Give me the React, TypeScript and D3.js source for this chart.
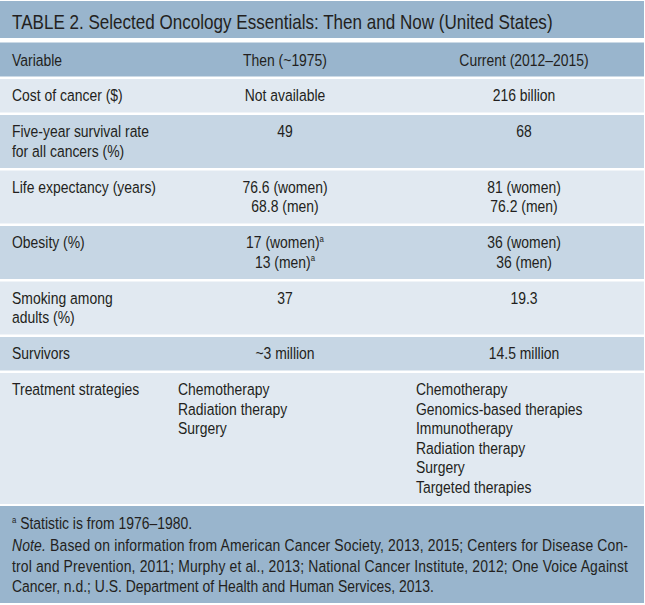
import React from "react";
import * as d3 from "d3";

const title = "TABLE 2. Selected Oncology Essentials: Then and Now (United States)";
const headers = ["Variable", "Then (~1975)", "Current (2012–2015)"];
const variables: string[][] = [
  ["Cost of cancer ($)"],
  ["Five-year survival rate", "for all cancers (%)"],
  ["Life expectancy (years)"],
  ["Obesity (%)"],
  ["Smoking among", "adults (%)"],
  ["Survivors"],
  ["Treatment strategies"],
];
const thenValues: string[][] = [
  ["Not available"],
  ["49"],
  ["76.6 (women)", "68.8 (men)"],
  ["17 (women)^a", "13 (men)^a"],
  ["37"],
  ["~3 million"],
  ["Chemotherapy", "Radiation therapy", "Surgery"],
];
const currentValues: string[][] = [
  ["216 billion"],
  ["68"],
  ["81 (women)", "76.2 (men)"],
  ["36 (women)", "36 (men)"],
  ["19.3"],
  ["14.5 million"],
  ["Chemotherapy", "Genomics-based therapies", "Immunotherapy", "Radiation therapy", "Surgery", "Targeted therapies"],
];
const listRow = [false, false, false, false, false, false, true];
const footnote = "Statistic is from 1976–1980.";
const noteLines = [
  "Based on information from American Cancer Society, 2013, 2015; Centers for Disease Con-",
  "trol and Prevention, 2011; Murphy et al., 2013; National Cancer Institute, 2012; One Voice Against",
  "Cancer, n.d.; U.S. Department of Health and Human Services, 2013.",
];

const W = 645;
const H = 605;
const TABLE_W = 644;
const DARK = "#99b5cd";
const MID = "#c6d6e4";
const LIGHT = "#e1e9f1";
const TEXT = "#231f20";
const FONT = "'Liberation Sans', Arial, sans-serif";
const SX = 0.82;
const FS = 17;
const LH = 19.5;
const GAP = 2.5;

function NText({
  x,
  y,
  anchor = "start",
  size = FS,
  children,
  textLength,
}: {
  x: number;
  y: number;
  anchor?: string;
  size?: number;
  children: React.ReactNode;
  textLength?: number;
}) {
  return (
    <g transform={`translate(${x},${y}) scale(${SX},1)`}>
      <text
        x={0}
        y={0}
        textAnchor={anchor}
        fontFamily={FONT}
        fontSize={size}
        fill={TEXT}
        textLength={textLength !== undefined ? textLength / SX : undefined}
        lengthAdjust={textLength !== undefined ? "spacing" : undefined}
      >
        {children}
      </text>
    </g>
  );
}

function Cell({ lines, x, y, anchor }: { lines: string[]; x: number; y: number; anchor: string }) {
  return (
    <g>
      {lines.map((l, i) => {
        const sup = l.endsWith("^a");
        const txt = sup ? l.slice(0, -2) : l;
        return (
          <NText key={i} x={x} y={y + i * LH} anchor={anchor}>
            {txt}
            {sup ? (
              <tspan fontSize={9.5} dy={-6.5}>
                a
              </tspan>
            ) : null}
          </NText>
        );
      })}
    </g>
  );
}

export default function App() {
  const lineCounts = variables.map((v, i) => Math.max(v.length, thenValues[i].length, currentValues[i].length));
  const heights = lineCounts.map((n) => 14 + LH * n);
  const tops: number[] = [];
  let acc = 79;
  heights.forEach((h) => {
    tops.push(acc);
    acc += h + GAP;
  });
  const colCenter = d3.scaleOrdinal<number, number>().domain([0, 1, 2]).range([12, 285, 524]);
  const colLeft = d3.scaleOrdinal<number, number>().domain([0, 1, 2]).range([12, 178, 416]);
  const footTop = 506;

  return (
    <svg width={W} height={H} style={{ position: "absolute", left: 0, top: 0, background: "#fff" }}>
      <rect x={0} y={0} width={W} height={H} fill="#fff" />
      {/* title band */}
      <rect x={0} y={1} width={TABLE_W} height={37} fill={DARK} />
      <NText x={12} y={29} size={20.8}>
        {title}
      </NText>
      {/* header */}
      <rect x={0} y={42.5} width={TABLE_W} height={34} fill={DARK} />
      {headers.map((h, i) => (
        <NText key={h} x={colCenter(i)} y={66} anchor={i === 0 ? "start" : "middle"}>
          {h}
        </NText>
      ))}
      {/* rows */}
      {variables.map((v, i) => {
        const top = tops[i];
        const base = top + 22;
        const list = listRow[i];
        return (
          <g key={i}>
            <rect x={0} y={top} width={TABLE_W} height={heights[i]} fill={i % 2 === 0 ? LIGHT : MID} />
            <Cell lines={v} x={colCenter(0)} y={base} anchor="start" />
            <Cell
              lines={thenValues[i]}
              x={list ? colLeft(1) : colCenter(1)}
              y={base}
              anchor={list ? "start" : "middle"}
            />
            <Cell
              lines={currentValues[i]}
              x={list ? colLeft(2) : colCenter(2)}
              y={base}
              anchor={list ? "start" : "middle"}
            />
          </g>
        );
      })}
      {/* footer */}
      <rect x={0} y={footTop} width={TABLE_W} height={97} fill={DARK} />
      <NText x={12} y={footTop + 23}>
        <tspan fontSize={9.5} dy={-6.5}>a</tspan>
        <tspan dy={6.5}> {footnote}</tspan>
      </NText>
      {noteLines.map((l, i) => (
        <NText key={i} x={12} y={footTop + 45 + i * 20.7} textLength={i < 2 ? 616 : undefined}>
          {i === 0 ? (
            <>
              <tspan fontStyle="italic">Note.</tspan> {l}
            </>
          ) : (
            l
          )}
        </NText>
      ))}
    </svg>
  );
}
